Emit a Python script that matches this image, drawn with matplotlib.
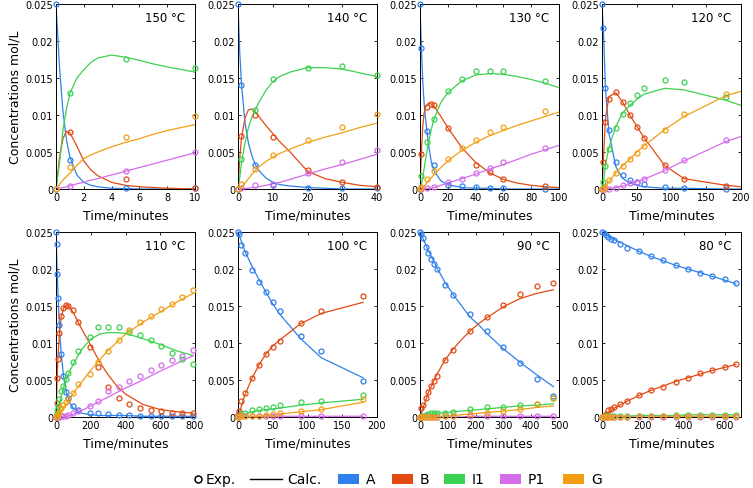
import numpy as np
import matplotlib
matplotlib.use("Agg")
import matplotlib.pyplot as plt
from matplotlib.lines import Line2D
from matplotlib.patches import Rectangle

nan = np.nan

# ---------------- data ----------------
species = ["A", "B", "I1", "P1", "G"]
colors = ["#2F80ED", "#E34A12", "#3BD150", "#D46CEB", "#F29F14"]
temps = ["150 °C", "140 °C", "130 °C", "120 °C", "110 °C", "100 °C", "90 °C", "80 °C"]
xlims = [10, 40, 100, 200, 800, 200, 500, 680]
xticks_list = [[0, 2, 4, 6, 8, 10], [0, 10, 20, 30, 40], [0, 20, 40, 60, 80, 100],
               [0, 50, 100, 150, 200], [0, 200, 400, 600, 800], [0, 50, 100, 150, 200],
               [0, 100, 200, 300, 400, 500], [0, 200, 400, 600]]
yticks = [0, 0.005, 0.01, 0.015, 0.02, 0.025]
ytick_labels = ["0", "0.005", "0.01", "0.015", "0.02", "0.025"]

# 150 C
t150 = [0, 1, 5, 10]
A150 = [0.025, 0.0039, 0.0001, 0.0001]
B150 = [0.0, 0.0077, 0.0013, 0.0001]
I150 = [0.0, 0.013, 0.0176, 0.0164]
P150 = [0.0, 0.0004, 0.0024, 0.005]
G150 = [0.0, 0.003, 0.0070, 0.0098]
tc150 = [0, 0.25, 0.5, 0.75, 1, 1.5, 2, 2.5, 3, 4, 5, 6, 7, 8, 10]
Ac150 = [0.025, 0.0165, 0.0105, 0.0067, 0.0043, 0.0019, 0.0009, 0.0005, 0.0003, 0.0001, 0.00005, 0, 0, 0, 0]
Bc150 = [0, 0.0042, 0.0068, 0.0078, 0.0076, 0.0058, 0.0038, 0.0026, 0.0018, 0.0009, 0.0005, 0.0003, 0.0002, 0.0001, 0.0]
Ic150 = [0, 0.0035, 0.008, 0.0108, 0.0129, 0.0150, 0.0161, 0.0171, 0.0177, 0.0181, 0.0178, 0.0174, 0.0169, 0.0165, 0.0158]
Pc150 = [0, 0.0001, 0.0002, 0.0003, 0.0004, 0.0007, 0.0009, 0.0012, 0.0014, 0.0019, 0.0024, 0.0029, 0.0034, 0.0039, 0.0049]
Gc150 = [0, 0.0006, 0.0012, 0.0017, 0.0021, 0.0032, 0.0041, 0.0046, 0.005, 0.0057, 0.0063, 0.0068, 0.0074, 0.0079, 0.0087]

# 140 C
t140 = [0, 1, 5, 10, 20, 30, 40]
A140 = [0.025, 0.0141, 0.0032, 0.0005, 0.0002, 0.0001, 0.0001]
B140 = [0.0, 0.0072, 0.0100, 0.0070, 0.0026, 0.0010, 0.0003]
I140 = [0.0, 0.0040, 0.0107, 0.0149, 0.0164, 0.0166, 0.0154]
P140 = [0.0, 0.0001, 0.0005, 0.0007, 0.0021, 0.0036, 0.0053]
G140 = [0.0, 0.0007, 0.0027, 0.0046, 0.0066, 0.0084, 0.0102]
tc140 = [0, 0.5, 1, 2, 3, 4, 5, 6, 8, 10, 12, 15, 20, 25, 30, 35, 40]
Ac140 = [0.025, 0.0185, 0.0142, 0.009, 0.0062, 0.0045, 0.0033, 0.0025, 0.0015, 0.0009, 0.0006, 0.0004, 0.0002, 0.0001, 0, 0, 0]
Bc140 = [0, 0.0042, 0.0068, 0.0096, 0.0107, 0.0108, 0.0104, 0.0098, 0.0086, 0.0075, 0.0064, 0.0050, 0.0024, 0.0014, 0.0009, 0.0005, 0.0003]
Ic140 = [0, 0.0015, 0.0035, 0.0062, 0.0083, 0.0097, 0.0107, 0.0117, 0.0133, 0.0145, 0.0152, 0.0158, 0.0164, 0.0164, 0.0162, 0.0157, 0.0152]
Pc140 = [0, 0, 0, 0.0001, 0.0001, 0.0002, 0.0002, 0.0003, 0.0005, 0.0007, 0.0009, 0.0013, 0.0020, 0.0027, 0.0033, 0.0040, 0.0047]
Gc140 = [0, 0.0001, 0.0003, 0.0008, 0.0014, 0.0020, 0.0025, 0.0030, 0.0037, 0.0043, 0.0048, 0.0054, 0.0063, 0.0070, 0.0076, 0.0083, 0.0089]

# 130 C
t130 = [0, 1, 5, 8, 10, 20, 30, 40, 50, 60, 90]
A130 = [0.025, 0.0191, 0.0079, nan, 0.0033, 0.0006, 0.0004, 0.0003, 0.0002, 0.0001, 0.0]
B130 = [0.0, 0.0047, 0.0111, 0.0115, 0.0114, 0.0083, nan, 0.0033, 0.0023, 0.0013, 0.0004]
I130 = [0.0, 0.0017, 0.0063, nan, 0.0095, 0.0132, 0.0149, 0.016, 0.016, 0.016, 0.0146]
P130 = [0.0, 0.0, 0.0001, nan, 0.0003, 0.001, 0.0014, 0.0022, 0.0029, 0.0036, 0.0055]
G130 = [0.0, 0.0003, 0.0013, nan, 0.0024, 0.0041, 0.0055, 0.0066, 0.0077, 0.0084, 0.0105]
tc130 = [0, 1, 2, 3, 4, 6, 8, 10, 15, 20, 30, 40, 50, 60, 70, 80, 90, 100]
Ac130 = [0.025, 0.019, 0.0145, 0.0115, 0.0095, 0.0062, 0.0038, 0.0025, 0.0011, 0.0006, 0.0002, 0.0001, 0.0001, 0, 0, 0, 0, 0]
Bc130 = [0, 0.005, 0.0085, 0.0103, 0.0111, 0.0116, 0.0115, 0.0112, 0.0098, 0.0083, 0.0056, 0.0036, 0.0022, 0.0013, 0.0008, 0.0005, 0.0003, 0.0002]
Ic130 = [0, 0.0006, 0.0016, 0.0028, 0.004, 0.0062, 0.008, 0.0094, 0.0117, 0.0130, 0.0146, 0.0154, 0.0156, 0.0155, 0.0152, 0.0148, 0.0143, 0.0137]
Pc130 = [0, 0, 0, 0, 0, 0.0001, 0.0001, 0.0002, 0.0005, 0.0008, 0.0014, 0.0020, 0.0027, 0.0033, 0.0040, 0.0047, 0.0053, 0.0059]
Gc130 = [0, 0.0001, 0.0002, 0.0004, 0.0006, 0.0011, 0.0015, 0.0019, 0.0029, 0.0038, 0.0052, 0.0063, 0.0072, 0.0079, 0.0086, 0.0092, 0.0098, 0.0104]

# 120 C
t120 = [0, 2, 5, 10, 20, 30, 40, 50, 60, 90, 118, 178]
A120 = [0.025, 0.0217, 0.0137, 0.008, 0.0036, 0.0019, 0.0012, 0.0009, 0.0007, 0.0003, 0.0001, 0.0]
B120 = [0.0, 0.0036, 0.009, 0.0122, 0.0131, 0.0118, 0.010, 0.0084, 0.0069, 0.0033, 0.0014, 0.0004]
I120 = [0.0, 0.001, 0.0031, 0.0054, 0.0083, 0.0102, 0.0116, 0.0127, 0.0136, 0.0147, 0.0144, 0.0124]
P120 = [0.0, 0.0, 0.0, 0.0, 0.0001, 0.0005, 0.0008, 0.001, 0.0013, 0.0026, 0.0039, 0.0066]
G120 = [0.0, 0.0, 0.0003, 0.0012, 0.0022, 0.0031, 0.004, 0.0049, 0.0058, 0.008, 0.0101, 0.0129]
tc120 = [0, 2, 5, 10, 20, 30, 40, 50, 60, 90, 118, 178, 200]
Ac120 = [0.025, 0.0215, 0.0135, 0.0075, 0.003, 0.0014, 0.0008, 0.0005, 0.0003, 0.0001, 0.0001, 0, 0]
Bc120 = [0, 0.004, 0.0095, 0.0125, 0.013, 0.0117, 0.0100, 0.0085, 0.0070, 0.0032, 0.0014, 0.0005, 0.0003]
Ic120 = [0, 0.0008, 0.0033, 0.0056, 0.0085, 0.0103, 0.0113, 0.0121, 0.0128, 0.0136, 0.0134, 0.0120, 0.0113]
Pc120 = [0, 0, 0, 0, 0.0002, 0.0004, 0.0007, 0.001, 0.0013, 0.0025, 0.0038, 0.0064, 0.0071]
Gc120 = [0, 0, 0.0003, 0.001, 0.0022, 0.0032, 0.004, 0.005, 0.0058, 0.008, 0.0098, 0.0126, 0.0132]

# 110 C
t110 = [0, 4, 8, 12, 20, 30, 40, 55, 70, 95, 125, 195, 240, 300, 360, 420, 485, 545, 605, 665, 725, 790]
A110 = [0.025, 0.0234, 0.0193, 0.0161, 0.0125, 0.0085, 0.0055, 0.0034, 0.0026, 0.0015, 0.0009, 0.0006, 0.0005, 0.0004, 0.0003, 0.0003, 0.0002, 0.0002, 0.0002, 0.0002, 0.0002, 0.0002]
B110 = [0.0, 0.0019, 0.0053, 0.0079, 0.0113, 0.0137, 0.0147, 0.0152, 0.015, 0.0144, 0.0128, 0.0095, 0.0068, 0.0041, 0.0026, 0.0018, 0.0012, 0.0009, 0.0008, 0.0006, 0.0005, 0.0005]
I110 = [0.0002, 0.0005, 0.001, 0.0015, 0.0025, 0.0035, 0.0042, 0.0052, 0.006, 0.0075, 0.0089, 0.0108, 0.0121, 0.0122, 0.0121, 0.0115, 0.0111, 0.0104, 0.0096, 0.0087, 0.0079, 0.0072]
P110 = [0, 0, 0, 0, 0, 0.0001, 0.0001, 0.0002, 0.0003, 0.0005, 0.0008, 0.0015, 0.0022, 0.0035, 0.0041, 0.0049, 0.0056, 0.0064, 0.007, 0.0077, 0.0083, 0.009]
G110 = [0, 0.0001, 0.0002, 0.0004, 0.0007, 0.0012, 0.0016, 0.002, 0.0025, 0.0033, 0.0044, 0.0058, 0.0075, 0.0089, 0.0104, 0.0118, 0.0128, 0.0137, 0.0146, 0.0153, 0.0162, 0.0172]
tc110 = [0, 5, 10, 20, 30, 45, 60, 80, 100, 150, 200, 250, 300, 350, 400, 500, 600, 700, 790]
Ac110 = [0.025, 0.021, 0.0175, 0.012, 0.0085, 0.0052, 0.0033, 0.0019, 0.0012, 0.0005, 0.0003, 0.0002, 0.0002, 0.0002, 0.0002, 0.0001, 0.0001, 0.0001, 0.0001]
Bc110 = [0, 0.004, 0.0075, 0.0115, 0.0135, 0.0148, 0.0151, 0.0148, 0.0141, 0.0118, 0.0097, 0.0075, 0.0057, 0.0042, 0.0031, 0.0017, 0.001, 0.0007, 0.0005]
Ic110 = [0, 0.0003, 0.0008, 0.0018, 0.0028, 0.0041, 0.0051, 0.0062, 0.0072, 0.0092, 0.0105, 0.0112, 0.0114, 0.0114, 0.0113, 0.0106, 0.0098, 0.0089, 0.0083]
Pc110 = [0, 0, 0, 0, 0, 0, 0.0001, 0.0002, 0.0004, 0.0009, 0.0015, 0.0021, 0.0027, 0.0033, 0.0039, 0.0050, 0.0062, 0.0073, 0.0083]
Gc110 = [0, 0.0001, 0.0002, 0.0005, 0.0009, 0.0013, 0.0017, 0.0025, 0.0032, 0.0048, 0.0063, 0.0077, 0.0090, 0.0101, 0.0112, 0.0128, 0.0142, 0.0156, 0.0167]

# 100 C
t100 = [0, 2, 5, 10, 20, 30, 40, 50, 60, 90, 120, 180]
A100 = [0.025, 0.0247, 0.0233, 0.0221, 0.0199, 0.0183, 0.0169, 0.0156, 0.0143, 0.011, 0.0089, 0.0048]
B100 = [0.0003, 0.0008, 0.0021, 0.0033, 0.0053, 0.007, 0.0085, 0.0094, 0.0103, 0.0127, 0.0143, 0.0163]
I100 = [0.0, 0.0002, 0.0004, 0.0006, 0.0009, 0.0011, 0.0012, 0.0014, 0.0016, 0.002, 0.0022, 0.003]
P100 = [0.0, 0.0001, 0.0001, 0.0001, 0.0001, 0.0001, 0.0001, 0.0001, 0.0001, 0.0001, 0.0001, 0.0002]
G100 = [0.0, 0.0, 0.0001, 0.0001, 0.0002, 0.0002, 0.0003, 0.0004, 0.0005, 0.0008, 0.0011, 0.0025]
tc100 = [0, 2, 5, 10, 20, 30, 40, 50, 60, 90, 120, 180]
Ac100 = [0.025, 0.0245, 0.0237, 0.0224, 0.0204, 0.0186, 0.0169, 0.0153, 0.0139, 0.0106, 0.008, 0.0053]
Bc100 = [0, 0.0005, 0.0015, 0.003, 0.0052, 0.007, 0.0085, 0.0096, 0.0104, 0.0126, 0.014, 0.0155]
Ic100 = [0, 0, 0.0002, 0.0004, 0.0007, 0.0009, 0.001, 0.0011, 0.0012, 0.0016, 0.0019, 0.0024]
Pc100 = [0, 0, 0, 0, 0, 0, 0.0001, 0.0001, 0.0001, 0.0001, 0.0001, 0.0001]
Gc100 = [0, 0, 0, 0, 0.0001, 0.0001, 0.0002, 0.0003, 0.0004, 0.0007, 0.001, 0.002]

# 90 C
t90 = [0, 5, 10, 20, 30, 40, 50, 60, 90, 120, 180, 240, 300, 360, 420, 480]
A90 = [0.025, 0.0247, 0.0242, 0.023, 0.0221, 0.0213, 0.0207, 0.02, 0.0178, 0.0165, 0.0139, 0.0116, 0.0095, 0.0073, 0.0051, 0.0029]
B90 = [0.0, 0.0012, 0.0016, 0.0026, 0.0034, 0.0042, 0.0048, 0.0056, 0.0077, 0.0091, 0.0116, 0.0135, 0.0151, 0.0166, 0.0177, 0.0181]
I90 = [0.0, 0.0001, 0.0002, 0.0003, 0.0004, 0.0005, 0.0005, 0.0006, 0.0006, 0.0007, 0.0011, 0.0013, 0.0014, 0.0016, 0.0018, 0.0026]
P90 = [0.0, 0.0, 0.0, 0.0, 0.0, 0.0, 0.0, 0.0, 0.0001, 0.0001, 0.0001, 0.0001, 0.0001, 0.0001, 0.0001, 0.0002]
G90 = [0.0, 0.0, 0.0, 0.0, 0.0, 0.0, 0.0, 0.0, 0.0001, 0.0002, 0.0004, 0.0006, 0.0008, 0.0011, 0.0017, 0.0026]
tc90 = [0, 30, 60, 90, 120, 150, 180, 210, 240, 300, 360, 420, 480]
Ac90 = [0.025, 0.0225, 0.0202, 0.0182, 0.0165, 0.015, 0.0135, 0.0125, 0.0113, 0.0092, 0.0074, 0.0057, 0.0041]
Bc90 = [0, 0.0033, 0.0057, 0.0077, 0.0092, 0.0105, 0.0116, 0.0126, 0.0134, 0.0149, 0.016, 0.0167, 0.0172]
Ic90 = [0, 0.0003, 0.0005, 0.0006, 0.0007, 0.0008, 0.0009, 0.001, 0.0011, 0.0013, 0.0015, 0.0016, 0.0018]
Pc90 = [0, 0, 0, 0, 0, 0, 0.0001, 0.0001, 0.0001, 0.0001, 0.0001, 0.0001, 0.0001]
Gc90 = [0, 0, 0.0001, 0.0001, 0.0002, 0.0003, 0.0004, 0.0005, 0.0006, 0.0008, 0.001, 0.0013, 0.0015]

# 80 C
t80 = [0, 10, 20, 30, 45, 60, 90, 120, 180, 240, 300, 360, 420, 480, 540, 600, 655]
A80 = [0.025, 0.0248, 0.0246, 0.0243, 0.0241, 0.0239, 0.0234, 0.0229, 0.0224, 0.0217, 0.0212, 0.0206, 0.0200, 0.0195, 0.0191, 0.0186, 0.0181]
B80 = [0.0, 0.0002, 0.0004, 0.0009, 0.0011, 0.0013, 0.0018, 0.0022, 0.003, 0.0036, 0.0041, 0.0047, 0.0053, 0.0059, 0.0063, 0.0067, 0.0071]
I80 = [0.0, 0.0001, 0.0001, 0.0001, 0.0001, 0.0002, 0.0002, 0.0002, 0.0002, 0.0002, 0.0002, 0.0003, 0.0003, 0.0003, 0.0003, 0.0003, 0.0003]
P80 = [0.0] * 17
G80 = [0.0, 0.0, 0.0, 0.0, 0.0, 0.0, 0.0, 0.0, 0.0001, 0.0001, 0.0001, 0.0001, 0.0001, 0.0001, 0.0001, 0.0001, 0.0001]
tc80 = [0, 60, 120, 180, 240, 300, 360, 420, 480, 540, 600, 655]
Ac80 = [0.025, 0.0240, 0.0232, 0.0224, 0.0217, 0.0211, 0.0205, 0.02, 0.0195, 0.019, 0.0185, 0.018]
Bc80 = [0, 0.0012, 0.0021, 0.0029, 0.0036, 0.0042, 0.0048, 0.0053, 0.0058, 0.0063, 0.0067, 0.0071]
Ic80 = [0, 0.0001, 0.0001, 0.0002, 0.0002, 0.0002, 0.0002, 0.0003, 0.0003, 0.0003, 0.0003, 0.0003]
Pc80 = [0] * 12
Gc80 = [0, 0, 0, 0, 0, 0.0001, 0.0001, 0.0001, 0.0001, 0.0001, 0.0001, 0.0001]

panels = [
    (t150, [A150, B150, I150, P150, G150], tc150, [Ac150, Bc150, Ic150, Pc150, Gc150]),
    (t140, [A140, B140, I140, P140, G140], tc140, [Ac140, Bc140, Ic140, Pc140, Gc140]),
    (t130, [A130, B130, I130, P130, G130], tc130, [Ac130, Bc130, Ic130, Pc130, Gc130]),
    (t120, [A120, B120, I120, P120, G120], tc120, [Ac120, Bc120, Ic120, Pc120, Gc120]),
    (t110, [A110, B110, I110, P110, G110], tc110, [Ac110, Bc110, Ic110, Pc110, Gc110]),
    (t100, [A100, B100, I100, P100, G100], tc100, [Ac100, Bc100, Ic100, Pc100, Gc100]),
    (t90, [A90, B90, I90, P90, G90], tc90, [Ac90, Bc90, Ic90, Pc90, Gc90]),
    (t80, [A80, B80, I80, P80, G80], tc80, [Ac80, Bc80, Ic80, Pc80, Gc80]),
]

# ---------------- figure ----------------
plt.rcParams['font.family'] = ['DejaVu Sans']
W, H = 753, 489
fig = plt.figure(figsize=(W / 100, H / 100), dpi=100)

lefts = [56, 238, 420, 602]
tops = [5, 233]
pw, ph = 139, 185

for k, (te, exps, tc, calcs) in enumerate(panels):
    r, c = divmod(k, 4)
    x0 = lefts[c]
    y0 = tops[r]
    ax = fig.add_axes([x0 / W, 1 - (y0 + ph) / H, pw / W, ph / H])
    for yc, col in zip(calcs, colors):
        ax.plot(tc, yc, '-', color=col, lw=0.9, zorder=2)
    for ye, col in zip(exps, colors):
        ax.plot(te, ye, 'o', mfc='none', mec=col, ms=3.6, mew=0.9,
                clip_on=False, zorder=3)
    ax.set_xlim(0, xlims[k])
    ax.set_ylim(0, 0.025)
    ax.set_xticks(xticks_list[k])
    ax.set_xticklabels([str(v) for v in xticks_list[k]])
    ax.set_yticks(yticks)
    ax.set_yticklabels(ytick_labels)
    ax.tick_params(direction='in', length=2.5, width=0.6, labelsize=7,
                   top=True, right=True, pad=2)
    for sp in ax.spines.values():
        sp.set_linewidth(0.7)
    ax.set_xlabel("Time/minutes", fontsize=9, labelpad=5)
    if c == 0:
        ax.set_ylabel("Concentrations mol/L", fontsize=9, labelpad=3)
    ax.text(0.93, 0.925, temps[k], transform=ax.transAxes, ha='right',
            va='center', fontsize=8.5)

# ---------------- legend (figure level) ----------------
ly = 1 - 480 / H
fig.add_artist(Line2D([198 / W], [ly], marker='o', mfc='none', mec='black',
                      ms=5, mew=1.1, transform=fig.transFigure))
fig.text(206 / W, ly, "Exp.", fontsize=10, va='center', ha='left')
fig.add_artist(Line2D([250 / W, 282 / W], [ly, ly], color='black', lw=1.0,
                      transform=fig.transFigure))
fig.text(287 / W, ly, "Calc.", fontsize=10, va='center', ha='left')
patch_x = [338, 392, 444, 500, 563]
for px, col, name in zip(patch_x, colors, species):
    fig.add_artist(Rectangle((px / W, ly - 5 / H), 21 / W, 10 / H,
                             facecolor=col, edgecolor='none',
                             transform=fig.transFigure))
    fig.text((px + 28) / W, ly, name, fontsize=10, va='center', ha='left')

fig.savefig("out.png", dpi=100)
